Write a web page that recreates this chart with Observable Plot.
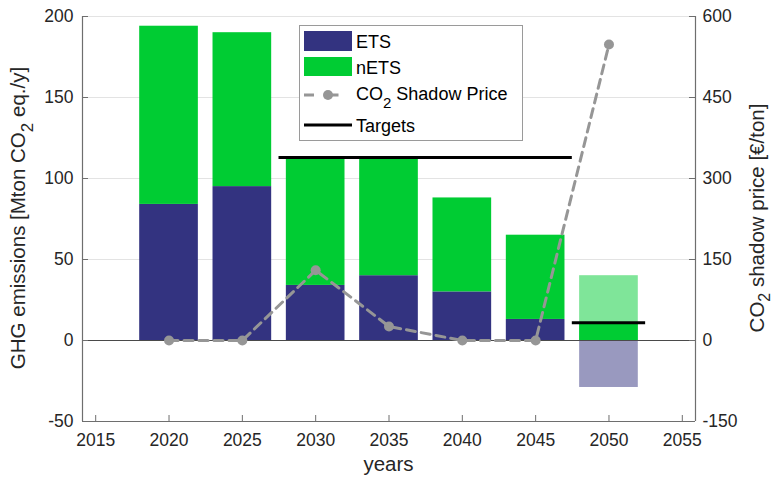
<!DOCTYPE html>
<html>
<head>
<meta charset="utf-8">
<script src="https://cdn.jsdelivr.net/npm/d3@7"></script>
<script src="https://cdn.jsdelivr.net/npm/@observablehq/plot@0.6"></script>
<style>
  html, body { margin: 0; padding: 0; background: #fff; }
  #chart { width: 774px; height: 480px; }
</style>
</head>
<body>
<div id="chart"></div>
<script>
// Emissions by sector (Mton CO2 eq./y) for each milestone year
const years = [2020, 2025, 2030, 2035, 2040, 2045, 2050];
const ets   = [84, 95, 34, 40, 30, 13, -29];
const nets  = [110, 95, 79, 73, 58, 52, 40];

// CO2 shadow price (€/ton), plotted against the right axis
const price = [0, 0, 130, 26, 0, 0, 548];

// Emission targets: start year, end year, level
const targetStart = [2027.5, 2047.5];
const targetEnd   = [2047.5, 2052.5];
const targetLevel = [113, 11];

// Axis ticks
const xTicks = [2015, 2020, 2025, 2030, 2035, 2040, 2045, 2050, 2055];
const leftTicks = [-50, 0, 50, 100, 150, 200];
const rightTicks = [-150, 0, 150, 300, 450, 600];

const priceRatio = 3;            // right axis units per left axis unit
const xDomain = [2014.1, 2055.9];
const yDomain = [-50, 200];
const barHalf = 2;               // half bar width, in years
const tickLenX = 0.41;           // inward tick length on the y axes, in years
const tickLenY = 3.7;            // inward tick length on the x axis, in emission units

const NAVY = "#333380";
const GREEN = "#00cc33";
const GREY = "#969696";
const AXIS = "#6e6e6e";
const FONT = "'Liberation Sans', Arial, Helvetica, sans-serif";

// Build bar segments: stacked when ETS is positive; when ETS is negative
// both sectors are shown translucent with the net emissions solid.
const segments = [];
years.forEach((yr, i) => {
  const e = ets[i], n = nets[i];
  if (e >= 0) {
    segments.push({x1: yr - barHalf, x2: yr + barHalf, y1: 0, y2: e, fill: NAVY, op: 1});
    segments.push({x1: yr - barHalf, x2: yr + barHalf, y1: e, y2: e + n, fill: GREEN, op: 1});
  } else {
    segments.push({x1: yr - barHalf, x2: yr + barHalf, y1: e, y2: 0, fill: NAVY, op: 0.5});
    segments.push({x1: yr - barHalf, x2: yr + barHalf, y1: 0, y2: n, fill: GREEN, op: 0.5});
    segments.push({x1: yr - barHalf, x2: yr + barHalf, y1: 0, y2: e + n, fill: GREEN, op: 1});
  }
});

const priceRows = years.map((yr, i) => ({year: yr, price: price[i]}));
const targets = targetLevel.map((v, i) => ({x1: targetStart[i], x2: targetEnd[i], y: v}));

const svg = Plot.plot({
  width: 774,
  height: 480,
  marginLeft: 82,
  marginRight: 79,
  marginTop: 16,
  marginBottom: 59,
  x: {domain: xDomain},
  y: {domain: yDomain},
  style: {fontFamily: FONT, fontSize: "17.5px", color: "#262626", background: "#fff"},
  marks: [
    Plot.ruleY(leftTicks.filter(d => d > 0), {stroke: "#e3e3e3", strokeWidth: 1}),
    Plot.rect(segments, {x1: "x1", x2: "x2", y1: "y1", y2: "y2", fill: d => d.fill, fillOpacity: d => d.op}),
    Plot.ruleY([0], {stroke: "#4a4a4a", strokeWidth: 1}),
    Plot.ruleY(targets, {x1: "x1", x2: "x2", y: "y", stroke: "#000", strokeWidth: 3}),
    Plot.line(priceRows, {x: "year", y: d => d.price / priceRatio, stroke: GREY, strokeWidth: 3, strokeDasharray: "9,6"}),
    Plot.dot(priceRows, {x: "year", y: d => d.price / priceRatio, r: 5, fill: GREY}),
    // axis lines
    Plot.ruleX([xDomain[0]], {stroke: AXIS, strokeWidth: 1.2}),
    Plot.ruleX([xDomain[1]], {stroke: AXIS, strokeWidth: 1.2}),
    Plot.ruleY([yDomain[0]], {stroke: AXIS, strokeWidth: 1.2}),
    // inward ticks
    Plot.ruleX(xTicks, {y1: yDomain[0], y2: yDomain[0] + tickLenY, stroke: AXIS, strokeWidth: 1}),
    Plot.ruleY(leftTicks, {x1: xDomain[0], x2: xDomain[0] + tickLenX, stroke: AXIS, strokeWidth: 1}),
    Plot.ruleY(rightTicks.map(v => v / priceRatio), {x1: xDomain[1] - tickLenX, x2: xDomain[1], stroke: AXIS, strokeWidth: 1}),
    // tick labels (plain hyphen for negatives)
    Plot.axisX(xTicks, {anchor: "bottom", tickSize: 0, tickPadding: 12, tickFormat: d => String(d), label: null}),
    Plot.axisY(leftTicks, {anchor: "left", tickSize: 0, tickPadding: 9, tickFormat: d => String(d), label: null}),
    Plot.axisY(rightTicks.map(v => v / priceRatio), {anchor: "right", tickSize: 0, tickPadding: 7, tickFormat: d => String(Math.round(d * priceRatio)), label: null})
  ]
});

const root = d3.select(svg);

// Axis titles with subscripts
function co2Text(g, before, after, subSize, subShift) {
  g.append("tspan").text(before + "CO");
  g.append("tspan").attr("dy", subShift).attr("font-size", subSize).text("2");
  g.append("tspan").attr("dy", -subShift).text(after);
}

const leftLabel = root.append("text")
  .attr("transform", "translate(25,218) rotate(-90)")
  .attr("text-anchor", "middle")
  .attr("font-family", FONT).attr("font-size", 20.5).attr("fill", "#262626");
co2Text(leftLabel, "GHG emissions [Mton ", " eq./y]", 17, 8);

const rightLabel = root.append("text")
  .attr("transform", "translate(764,218) rotate(-90)")
  .attr("text-anchor", "middle")
  .attr("font-family", FONT).attr("font-size", 20.5).attr("fill", "#262626");
co2Text(rightLabel, "", " shadow price [€/ton]", 16, 6);

root.append("text")
  .attr("x", 388.5).attr("y", 471)
  .attr("text-anchor", "middle")
  .attr("font-family", FONT).attr("font-size", 20.5).attr("fill", "#262626")
  .text("years");

// Legend
const lg = root.append("g")
  .attr("font-family", FONT).attr("font-size", 18).attr("fill", "#000")
  .attr("text-anchor", "start");
lg.append("rect").attr("x", 299.5).attr("y", 25.5).attr("width", 223).attr("height", 115)
  .attr("fill", "#fff").attr("stroke", "#9a9a9a").attr("stroke-width", 1);
lg.append("rect").attr("x", 304).attr("y", 31).attr("width", 48).attr("height", 20).attr("fill", NAVY);
lg.append("rect").attr("x", 304).attr("y", 57).attr("width", 48).attr("height", 19).attr("fill", GREEN);
lg.append("line").attr("x1", 304).attr("x2", 352).attr("y1", 95).attr("y2", 95)
  .attr("stroke", GREY).attr("stroke-width", 3).attr("stroke-dasharray", "10,14.5");
lg.append("circle").attr("cx", 328).attr("cy", 95).attr("r", 5).attr("fill", GREY);
lg.append("line").attr("x1", 304).attr("x2", 352).attr("y1", 125).attr("y2", 125)
  .attr("stroke", "#000").attr("stroke-width", 3);

lg.append("text").attr("x", 356).attr("y", 48).text("ETS");
lg.append("text").attr("x", 356).attr("y", 74).text("nETS");
const priceText = lg.append("text").attr("x", 356).attr("y", 99.5);
co2Text(priceText, "", " Shadow Price", 15, 8);
lg.append("text").attr("x", 356).attr("y", 131.5).text("Targets");

document.getElementById("chart").appendChild(svg);
</script>
</body>
</html>
